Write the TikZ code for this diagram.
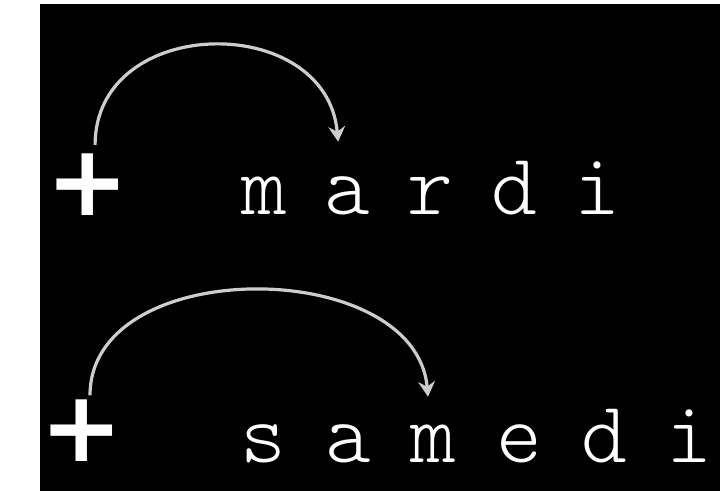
\documentclass[tikz,border=0pt]{standalone}
\usepackage{fontspec}
\usetikzlibrary{arrows.meta}
\newfontfamily\dayfont{lmmonolt10-regular.otf}
\newfontfamily\plusfont{DejaVu Sans}
\definecolor{hopgray}{RGB}{205,205,205}

\begin{document}
\begin{tikzpicture}[
    letter/.style={font=\dayfont\fontsize{62}{62}\selectfont, text=white,
      anchor=base, inner sep=0pt, text height=1.2cm, text depth=0pt},
    plus/.style={font=\plusfont\bfseries\fontsize{70}{70}\selectfont,
      text=white, inner sep=0pt},
    hop/.style={draw=hopgray, line width=0.8mm,
      -{Stealth[length=3.8mm, width=4.2mm, inset=1.3mm]}}
  ]
  \useasboundingbox (0,0) rectangle (18,12.275);
  \fill[black] (1,0) rectangle (18,12.175);

  \node[plus] (plusA) at (2.1875, 7.65) {+};
  \node[plus] (plusB) at (2.05, 1.5) {+};

  \foreach \c [count=\i] in {m,a,r,d,i}
    \node[letter] (mardi\i) at ({6.6+2.0825*(\i-1)}, 6.9) {\c};
  \foreach \c [count=\i] in {s,a,m,e,d,i}
    \node[letter] (samedi\i) at ({6.575+2.1325*(\i-1)}, 0.7) {\c};

  \draw[hop] ([shift={(1.9mm,10.0mm)}]plusA.center)
    to[out=90, in=95, looseness=1.38] ([shift={(-2.3mm,6.25mm)}]mardi2.north);
  \draw[hop] ([shift={(2mm,8.9mm)}]plusB.center)
    to[out=90, in=95, looseness=1.07] ([shift={(-1.4mm,4.5mm)}]samedi3.north);
\end{tikzpicture}
\end{document}
